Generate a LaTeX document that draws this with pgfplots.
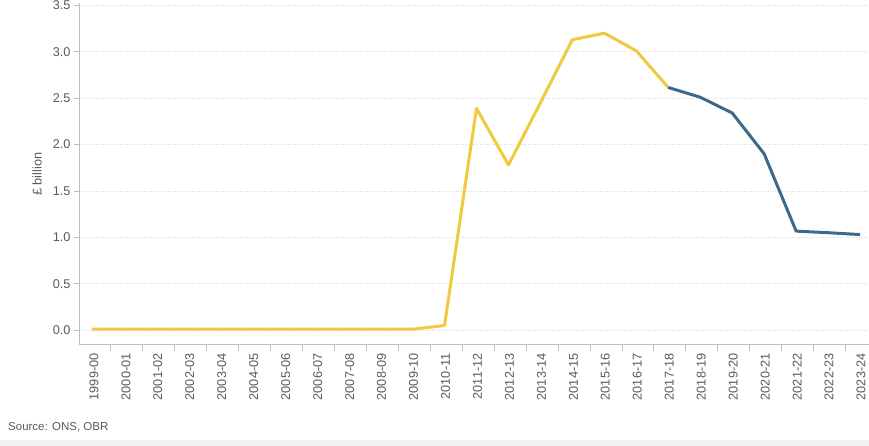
\documentclass[border=0pt]{standalone}
\usepackage{fontspec}
\setmainfont{Liberation Sans}
\usepackage{pgfplots}
\pgfplotsset{compat=1.18}
\definecolor{cyel}{HTML}{F0C940}
\definecolor{cblue}{HTML}{3D6A8A}
\definecolor{ctxt}{HTML}{595959}
\definecolor{caxis}{HTML}{BFBFBF}
\begin{document}
\begin{tikzpicture}[x=1pt,y=1pt]
\path[use as bounding box] (0,0) rectangle (869,446);
\fill[black!5] (0,0) rectangle (869,6);
\node[anchor=base west, inner sep=0pt, font=\fontsize{11.5}{13}\selectfont, text=ctxt] at (8,15) {Source: ONS, OBR};
\begin{axis}[
  at={(79pt,101pt)}, anchor=south west,
  scale only axis, width=790pt, height=341.5pt,
  xmin=-0.436, xmax=24.28, ymin=-0.16, ymax=3.52,
  axis x line*=bottom, axis y line*=left,
  axis line style={caxis, line width=1pt},
  xtick={0,...,24},
  xticklabels={1999-00,2000-01,2001-02,2002-03,2003-04,2004-05,2005-06,2006-07,2007-08,2008-09,2009-10,2010-11,2011-12,2012-13,2013-14,2014-15,2015-16,2016-17,2017-18,2018-19,2019-20,2020-21,2021-22,2022-23,2023-24},
  minor xtick={0.55,1.55,...,23.6},
  major x tick style={draw=none},
  minor x tick style={caxis, line width=0.8pt},
  minor tick length=6pt,
  tick align=outside,
  ytick={0,0.5,...,3.5},
  y tick style={caxis, line width=0.8pt},
  major tick length=5pt,
  yticklabel={\pgfmathprintnumber[fixed,fixed zerofill,precision=1]{\tick}},
  /pgf/number format/assume math mode=true,
  x tick label style={rotate=90, anchor=east, font=\fontsize{12.7}{14}\selectfont, text=ctxt, yshift=-1pt},
  y tick label style={font=\fontsize{12.7}{14}\selectfont, text=ctxt},
  ymajorgrids,
  grid style={dotted, black!15, line width=0.6pt},
  ylabel={£ billion},
  ylabel style={at={(axis description cs:-0.053,0.5)}, anchor=center, font=\fontsize{12.7}{14}\selectfont, text=ctxt},
  clip=false,
]
\addplot[cyel, line width=3pt, line join=round, line cap=round] coordinates {
(0,0.01)(1,0.01)(2,0.01)(3,0.01)(4,0.01)(5,0.01)(6,0.01)(7,0.01)(8,0.01)(9,0.01)(10,0.01)
(11,0.05)(12,2.39)(13,1.78)(14,2.45)(15,3.13)(16,3.20)(17,3.01)(18,2.615)};
\addplot[cblue, line width=3pt, line join=round] coordinates {
(18,2.615)(19,2.51)(20,2.34)(21,1.90)(22,1.067)(23,1.05)(24,1.03)};
\end{axis}
\end{tikzpicture}
\end{document}
